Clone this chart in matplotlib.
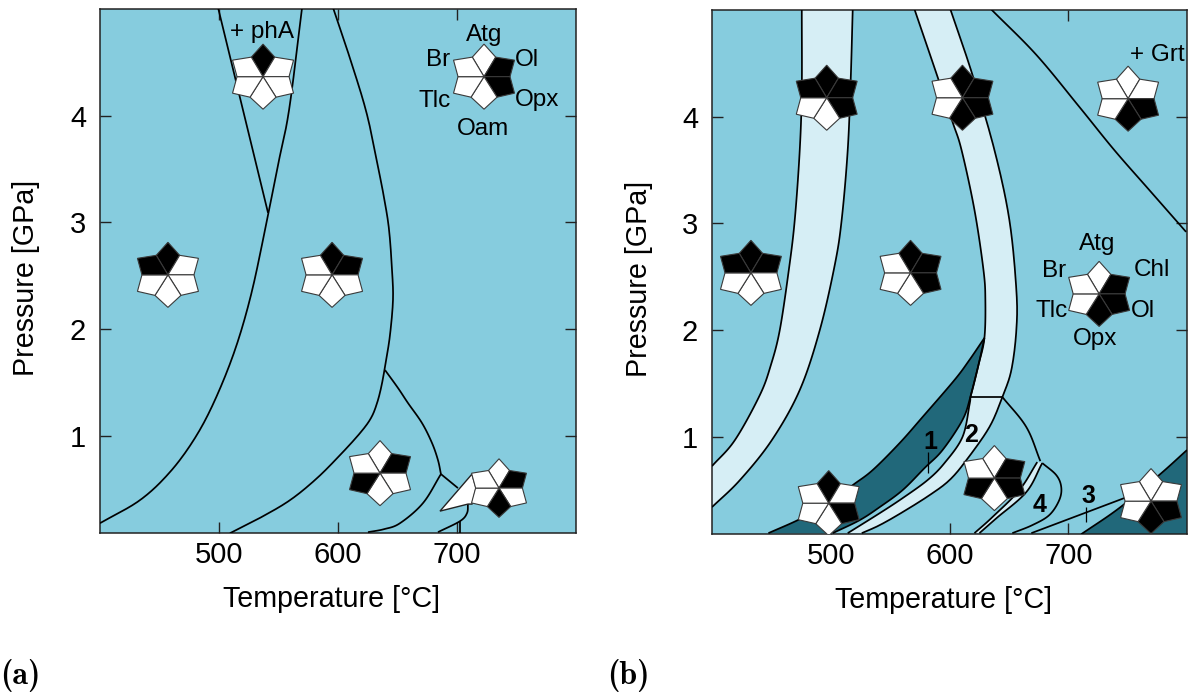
import numpy as np
import matplotlib
matplotlib.use("Agg")
import matplotlib.pyplot as plt

plt.rcParams['font.family'] = ['Liberation Sans', 'DejaVu Sans']

W, H = 1192, 695
BG = '#86CCDE'
PALE = '#D6EEF5'
DARK = '#21687A'

# ---- panel a curves (T in C, P in GPa)
a1_t = [400, 433.6, 458.8, 479.8, 496.6, 513.4, 526.9, 538.7, 549.6, 558.9, 569.7]
a1_p = [0.182, 0.398, 0.661, 0.980, 1.336, 1.805, 2.321, 2.931, 3.540, 4.056, 5.004]
a2_t = [509.2, 535.0, 559.7, 582.0, 601.7, 618.5, 627.7, 632.8, 636.7, 640.3, 643.7, 646.2, 645.4, 642.9, 639.0, 633.6, 624.4, 611.8, 595.8]
a2_p = [0.088, 0.235, 0.398, 0.600, 0.820, 1.026, 1.167, 1.307, 1.477, 1.702, 1.946, 2.274, 2.555, 2.931, 3.212, 3.522, 4.009, 4.478, 5.013]
a3_t = [639.5, 650.4, 658.8, 670.6, 679.0, 684.0, 686.5]
a3_p = [1.617, 1.449, 1.308, 1.120, 0.933, 0.773, 0.642]
a4_t = [686.5, 671.4, 652.1, 638.7, 625.2]
a4_p = [0.642, 0.370, 0.182, 0.126, 0.098]
a5_t = [686.5, 700.8]
a5_p = [0.642, 0.511]
a6_t = [709.2, 708.4, 702.5, 684.0]
a6_p = [0.361, 0.276, 0.201, 0.098]
a7_t = [702.5, 702.5]
a7_p = [0.201, 0.088]
pha_t = [499.2, 541.2]
pha_p = [5.013, 3.090]
wing_t = [712.6, 685.7, 709.2, 712.6, 716.0]
wing_p = [0.642, 0.295, 0.361, 0.361, 0.511]

# ---- panel b curves
b1l_t = [400, 419.3, 440.3, 449.6, 457.1, 464.7, 469.7, 473.9, 475.6, 475.6]
b1l_p = [0.726, 0.970, 1.392, 1.674, 2.002, 2.565, 3.034, 3.690, 4.253, 5.004]
b1r_t = [400, 423.5, 450.4, 473.9, 490.8, 503.4, 509.2, 514.3, 516.8, 518.5]
b1r_p = [0.342, 0.595, 0.970, 1.439, 2.002, 2.612, 3.034, 3.690, 4.347, 5.004]
b2l_t = [570.6, 589.9, 602.5, 610.1, 621.0, 628.6, 630.2, 629.4, 624.4, 617.6]
b2l_p = [5.004, 4.375, 3.953, 3.690, 3.128, 2.565, 2.283, 1.927, 1.674, 1.374]
b2low_t = [617.6, 616.8, 610.9, 595.8, 581.5, 560.5, 541.2, 514.3]
b2low_p = [1.374, 1.299, 0.998, 0.755, 0.595, 0.426, 0.285, 0.098]
b2r_t = [600.8, 619.3, 637.8, 650.4, 656.3, 656.3, 652.1, 644.5, 633.6, 614.3, 600.0, 583.2, 560.5, 541.2, 526.1]
b2r_p = [5.004, 4.394, 3.690, 3.034, 2.377, 2.002, 1.627, 1.374, 1.092, 0.783, 0.595, 0.454, 0.295, 0.173, 0.098]
dk_up_t = [629.4, 616.8, 604.2, 577.3, 558.0, 535.3, 518.5, 498.3, 473.9, 447.5]
dk_up_p = [1.927, 1.721, 1.533, 1.186, 0.942, 0.689, 0.548, 0.379, 0.229, 0.098]
dk_lo_t = [629.4, 624.4, 617.6, 610.9, 594.1, 579.0, 560.5, 541.2, 524.4, 501.7]
dk_lo_p = [1.927, 1.674, 1.374, 1.158, 0.876, 0.708, 0.501, 0.342, 0.220, 0.098]
c1_t = [644.5, 664.7, 676.5]
c1_p = [1.374, 1.092, 0.773]
st_l_t = [673.9, 658.8, 636.1, 621.0]
st_l_p = [0.764, 0.501, 0.248, 0.098]
st_r_t = [678.1, 664.7, 639.5, 625.2]
st_r_p = [0.755, 0.483, 0.238, 0.098]
c4_t = [678.1, 689.9, 694.1, 692.4, 684.0, 669.7, 652.9]
c4_p = [0.755, 0.642, 0.529, 0.407, 0.267, 0.173, 0.098]
c3_t = [668.9, 748.0]
c3_p = [0.098, 0.430]
dk2_t = [710.9, 742.8, 776.5, 800.0]
dk2_p = [0.088, 0.332, 0.642, 0.877]
grt_t = [635.3, 673.1, 709.2, 738.6, 768.1, 799.2]
grt_p = [5.004, 4.580, 4.094, 3.690, 3.315, 2.921]
horiz_t = [617.6, 644.5]
horiz_p = [1.374, 1.374]
mark1_t = [582.3, 582.3]
mark1_p = [0.858, 0.661]
mark3_t = [715.1, 715.1]
mark3_p = [0.342, 0.201]

# ---- stars: centre T, centre P, black petals (0 top, then clockwise), size
stars_a = [
    (537.0, 4.366, [0], 1),
    (722.7, 4.366, [1, 2], 1),
    (457.1, 2.509, [0, 5], 1),
    (595.0, 2.509, [0, 1], 1),
    (635.3, 0.651, [1, 4], 1),
    (735.3, 0.511, [1, 3], 0.9),
]
stars_b = [
    (496.6, 4.178, [0, 1, 2, 5], 1),
    (610.9, 4.178, [0, 1, 2, 3], 1),
    (750.4, 4.169, [2, 3], 1),
    (432.8, 2.537, [0, 1, 5], 1),
    (567.2, 2.537, [0, 1, 2], 1),
    (726.0, 2.340, [1, 2, 3], 1),
    (498.3, 0.379, [0, 2], 1),
    (637.8, 0.614, [1, 2, 4], 1),
    (769.7, 0.398, [2, 3], 1),
]
labels_a = [('Atg', 722.7, 4.755), ('Br', 684, 4.52), ('Ol', 758.5, 4.52),
            ('Tlc', 681, 4.14), ('Opx', 767, 4.15), ('Oam', 722, 3.88),
            ('+ phA', 536, 4.78)]
labels_b = [('Atg', 724.4, 2.809), ('Br', 688.2, 2.555), ('Chl', 770.6, 2.565),
            ('Tlc', 685.7, 2.18), ('Ol', 763, 2.18), ('Opx', 722.7, 1.918),
            ('+ Grt', 774.8, 4.58)]
num_t = [584.0, 618.5, 716.8, 675.6]
num_p = [0.951, 1.017, 0.445, 0.361]
num_s = ['1', '2', '3', '4']
ticks_t = [500, 600, 700]
ticks_p = [1, 2, 3, 4]


def smooth(t, p, n=14):
    # catmull-rom through the read points
    pts = np.column_stack([t, p]).astype(float)
    if len(pts) < 3:
        return pts[:, 0], pts[:, 1]
    q = np.vstack([2 * pts[0] - pts[1], pts, 2 * pts[-1] - pts[-2]])
    out = []
    for i in range(1, len(q) - 2):
        for u in np.linspace(0, 1, n, endpoint=False):
            out.append(0.5 * (2 * q[i] + (q[i + 1] - q[i - 1]) * u
                              + (2 * q[i - 1] - 5 * q[i] + 4 * q[i + 1] - q[i + 2]) * u ** 2
                              + (3 * q[i] - q[i - 1] - 3 * q[i + 1] + q[i + 2]) * u ** 3))
    out.append(pts[-1])
    out = np.array(out)
    return out[:, 0], out[:, 1]


def line(ax, t, p, lw=1.25):
    x, y = smooth(t, p)
    ax.plot(x, y, color='black', lw=lw, solid_capstyle='butt', zorder=3)


def band(ax, t1, p1, t2, p2, col):
    x1, y1 = smooth(t1, p1)
    x2, y2 = smooth(t2, p2)
    ax.fill(np.r_[x1, x2[::-1]], np.r_[y1, y2[::-1]], color=col, lw=0, zorder=2)


# star outline in pixels: tips and notches going round from the top
tip_x = [0, 30.5, 30.5, 0, -30.5, -30.5]
tip_y = [32.5, 16.5, -16.5, -32.5, -16.5, 16.5]
notch_x = [11.7, 26.0, 13.0, -13.0, -26.0, -11.7]
notch_y = [19.5, 0, -20.5, -20.5, 0, 19.5]


def star(ax, cx, cy, black, size):
    sx, sy = size / 1.19, size / 106.6
    for i in range(6):
        xs = [0, notch_x[i - 1], tip_x[i], notch_x[i]]
        ys = [0, notch_y[i - 1], tip_y[i], notch_y[i]]
        ax.fill(cx + np.array(xs) * sx, cy + np.array(ys) * sy,
                fc='black' if i in black else 'white', ec='#3a3a3a', lw=0.8,
                joinstyle='miter', zorder=5)


def setup(rect):
    l, r, t, b = rect
    ax = fig.add_axes([l / W, 1 - b / H, (r - l) / W, (b - t) / H], facecolor=BG)
    ax.set_xlim(400, 800)
    ax.set_ylim(0.09, 5.0)
    ax.set_xticks(ticks_t)
    ax.set_yticks(ticks_p)
    ax.tick_params(direction='in', top=True, right=True, length=8, width=1.0,
                   labelsize=21, color='#222222')
    ax.tick_params(axis='x', pad=6)
    ax.tick_params(axis='y', pad=10)
    for s in ax.spines.values():
        s.set_linewidth(1.1)
        s.set_color('#222222')
    ax.set_xlabel('Temperature [°C]', fontsize=20.6)
    ax.set_ylabel('Pressure [GPa]', fontsize=20.6)
    ax.xaxis.set_label_coords(0.487, -0.099)
    ax.yaxis.set_label_coords(-0.125, 0.487)
    return ax


fig = plt.figure(figsize=(W / 100, H / 100), dpi=100)

# panel a
ax = setup((100, 576, 9, 533))
for t, p in [(a1_t, a1_p), (a2_t, a2_p), (a3_t, a3_p), (a4_t, a4_p), (a5_t, a5_p),
             (a6_t, a6_p), (a7_t, a7_p), (pha_t, pha_p)]:
    line(ax, t, p)
ax.fill(wing_t, wing_p, fc='white', ec='#222222', lw=1.0, joinstyle='miter', zorder=4)
for cx, cy, blk, size in stars_a:
    star(ax, cx, cy, blk, size)
for s, t, p in labels_a:
    ax.text(t, p, s, fontsize=17.5, ha='center', va='center', zorder=6)

# panel b
ax = setup((712, 1187, 10, 534))
band(ax, b1l_t, b1l_p, b1r_t, b1r_p, PALE)
band(ax, b2l_t, b2l_p, b2r_t[:8], b2r_p[:8], PALE)
band(ax, b2low_t, b2low_p, b2r_t[7:], b2r_p[7:], PALE)
band(ax, dk_up_t, dk_up_p, dk_lo_t, dk_lo_p, DARK)
band(ax, st_l_t, st_l_p, st_r_t, st_r_p, PALE)
x2, y2 = smooth(dk2_t, dk2_p)
ax.fill(np.r_[x2, 800], np.r_[y2, 0.09], color=DARK, lw=0, zorder=2)
for t, p in [(b1l_t, b1l_p), (b1r_t, b1r_p), (b2l_t, b2l_p), (b2low_t, b2low_p), (b2r_t, b2r_p),
             (dk_up_t, dk_up_p), (dk_lo_t, dk_lo_p), (c1_t, c1_p), (st_l_t, st_l_p), (st_r_t, st_r_p),
             (c4_t, c4_p), (c3_t, c3_p), (dk2_t, dk2_p), (grt_t, grt_p), (horiz_t, horiz_p)]:
    line(ax, t, p)
line(ax, mark1_t, mark1_p, lw=0.9)
line(ax, mark3_t, mark3_p, lw=0.9)
for cx, cy, blk, size in stars_b:
    star(ax, cx, cy, blk, size)
for s, t, p in labels_b:
    ax.text(t, p, s, fontsize=17.5, ha='center', va='center', zorder=6)
for s, t, p in zip(num_s, num_t, num_p):
    ax.text(t, p, s, fontsize=18, fontweight='bold', ha='center', va='center', zorder=6)

fig.text(0 / W, 1 - 675 / H, '(a)', family='cmb10', fontsize=23, ha='left', va='center')
fig.text(607 / W, 1 - 675 / H, '(b)', family='cmb10', fontsize=23, ha='left', va='center')

fig.savefig('out.png', dpi=100)
